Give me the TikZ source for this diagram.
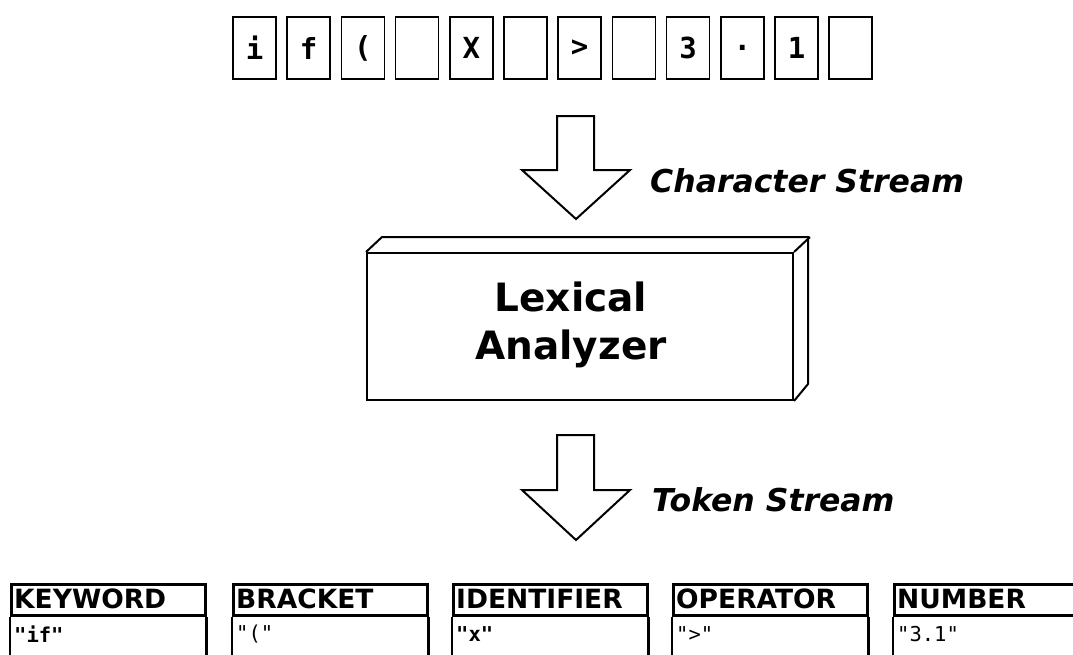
\documentclass[tikz,border=0pt]{standalone}
\usepackage{fontspec}
\setmainfont{DejaVu Sans}
\newfontfamily\monofont{DejaVu Sans Mono}
\begin{document}
\begin{tikzpicture}[x=1pt,y=-1pt,line join=miter,
  charbox/.style={draw,line width=1.6pt,minimum width=43pt,minimum height=62pt,inner sep=0pt,
    font=\monofont\bfseries\fontsize{29}{29}\selectfont},
  blockarrow/.style={draw,line width=2pt,fill=white},
  streamlabel/.style={anchor=west,inner sep=0pt,font=\bfseries\itshape\fontsize{31.5}{31.5}\selectfont},
  tokhead/.style={draw,line width=2.8pt,minimum width=194pt,minimum height=31pt,inner sep=0pt,anchor=north west},
  tokname/.style={anchor=west,inner sep=0pt,font=\bfseries\fontsize{26.5}{26.5}\selectfont},
  tokval/.style={anchor=west,inner sep=0pt,font=\monofont\fontsize{20.5}{20.5}\selectfont},
]
\useasboundingbox (0,0) rectangle (1073,654);

% character stream
\foreach \c [count=\i from 0] in {{i},{f},{(},{},{X},{},{>},{},{3},{.},{1},{}}{
  \node[charbox] (ch\i) at ({254.5+\i*54.2},48) {\c};
}

% first block arrow
\draw[blockarrow] (557,116) -- (594,116) -- (594,170) -- (630,170) -- (576,219)
  -- (522,170) -- (557,170) -- cycle;
\node[streamlabel] (cs) at (650,181) {Character Stream};

% lexical analyzer block
\node[draw,line width=2pt,minimum width=426pt,minimum height=147pt,inner sep=0pt] (lex) at (580,326.5) {};
\draw[line width=2pt] (lex.north west) -- ++(16,-15) -- ++(426,0) -- ++(0,147) -- (lex.south east);
\draw[line width=2pt] (lex.north east) -- ++(16,-15);
\node[align=center,inner sep=0pt,font=\bfseries\fontsize{39}{48}\selectfont] (lextext) at (571,325) {Lexical\\Analyzer};

% second block arrow
\draw[blockarrow] (557,435) -- (594,435) -- (594,490) -- (630,490) -- (576,540)
  -- (522,490) -- (557,490) -- cycle;
\node[streamlabel] (ts) at (652,500) {Token Stream};

% token records
\begin{scope}
\clip (0,0) rectangle (1073,654);
\foreach \x/\n/\v [count=\i] in {10/KEYWORD/{\textbf{"if"}},232/BRACKET/{"("},452/IDENTIFIER/{\textbf{"x"}},672/OPERATOR/{">"},893/NUMBER/{"3.1"}}{
  \node[tokhead] (h\i) at (\x,583) {};
  \draw[line width=2.8pt] (h\i.south west) -- ++(0,60) (h\i.south east) -- ++(0,60);
  \node[tokname] (n\i) at ([xshift=4pt,yshift=1pt]h\i.west) {\n};
  \node[tokval] (v\i) at ([xshift=4pt,yshift=-17pt]h\i.south west) {\v};
}
\end{scope}
\end{tikzpicture}
\end{document}
